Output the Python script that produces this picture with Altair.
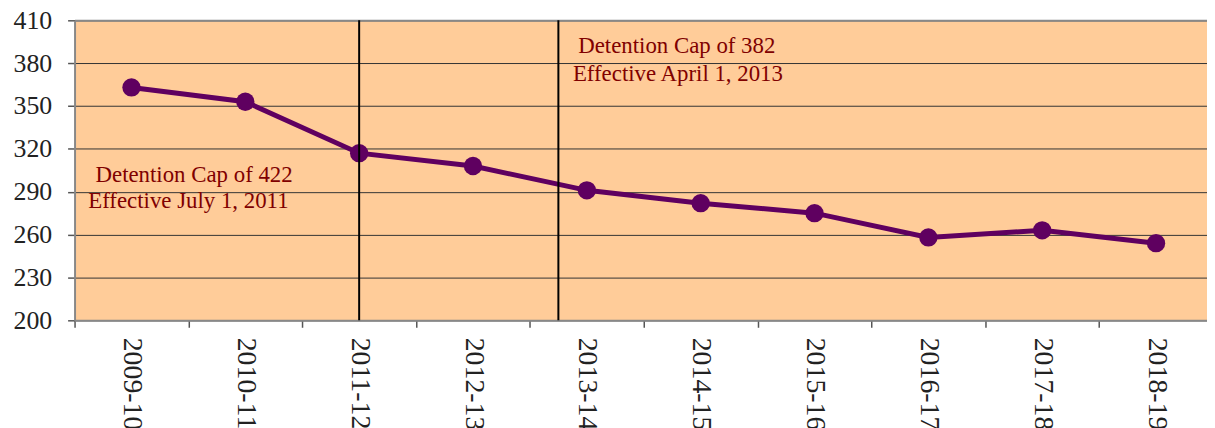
import altair as alt
import pandas as pd

years = ["2009-10", "2010-11", "2011-12", "2012-13", "2013-14",
         "2014-15", "2015-16", "2016-17", "2017-18", "2018-19"]
population = [363, 353, 317, 308, 291, 282, 275, 258, 263, 254]

y_ticks = [200, 230, 260, 290, 320, 350, 380, 410]

# Policy change markers (position in category index units)
cap_positions = [2.0, 3.75]

# Annotation lines
note_text = ["Detention Cap of 422", "Effective July 1, 2011",
             "Detention Cap of 382", "Effective April 1, 2013"]
note_x = [0.55, 0.50, 4.79, 4.80]
note_y = [301.5, 283.5, 392.0, 372.5]

df = pd.DataFrame({"year": years, "pop": population})
rules_df = pd.DataFrame({"xq": cap_positions})
notes_df = pd.DataFrame({"xq": note_x, "yv": note_y, "label": note_text})

FONT = "Liberation Serif"
RANGE = [0, 1146]

y_scale = alt.Scale(domain=[200, 410], nice=False, zero=False)
y_axis = alt.Axis(values=y_ticks, title=None, grid=True, gridColor="#333333",
                  gridWidth=1, domainColor="#888888", domainWidth=2,
                  tickColor="#555555", tickSize=7, tickWidth=1.5,
                  labelFont=FONT, labelFontSize=26, labelColor="#222222",
                  labelPadding=16)

line = alt.Chart(df).mark_line(
    color="#5F0060", strokeWidth=5,
    point=alt.OverlayMarkDef(filled=True, size=340, color="#5F0060", opacity=1)
).encode(
    x=alt.X("year:N", sort=years, bandPosition=0.5,
            scale=alt.Scale(type="band", range=RANGE, paddingInner=0, paddingOuter=0),
            axis=alt.Axis(title=None, tickBand="extent", labelAngle=90,
                          labelAlign="left", labelBaseline="middle",
                          labelFont=FONT, labelFontSize=28, labelColor="#222222",
                          labelPadding=10, tickSize=7, tickColor="#555555",
                          tickWidth=1.5, domainColor="#888888", domainWidth=2,
                          grid=False)),
    y=alt.Y("pop:Q", scale=y_scale, axis=y_axis),
)

xq_scale = alt.Scale(domain=[-0.5, 9.5], range=RANGE, nice=False, zero=False)

rules = alt.Chart(rules_df).mark_rule(color="#000000", strokeWidth=2).encode(
    x=alt.X("xq:Q", scale=xq_scale,
            axis=alt.Axis(orient="top", labels=False, ticks=False, grid=False,
                          domain=True, domainColor="#888888", domainWidth=2,
                          title=None)),
)

notes = alt.Chart(notes_df).mark_text(
    font=FONT, fontSize=23, color="#800000", align="center", baseline="middle"
).encode(
    x=alt.X("xq:Q", scale=xq_scale, axis=None),
    y=alt.Y("yv:Q", scale=y_scale, axis=y_axis),
    text="label:N",
)

chart = alt.layer(line, rules, notes).resolve_scale(x="independent").properties(
    width=1140, height=302,
    autosize=alt.AutoSizeParams(type="none"),
    padding={"left": 67, "top": 11, "right": 0, "bottom": 107},
    background="white",
).configure_view(fill="#FFCC99", stroke=None).configure_axis(
    labelFont=FONT
)

chart.save("out.html", embed_options={"renderer": "svg", "actions": False})
